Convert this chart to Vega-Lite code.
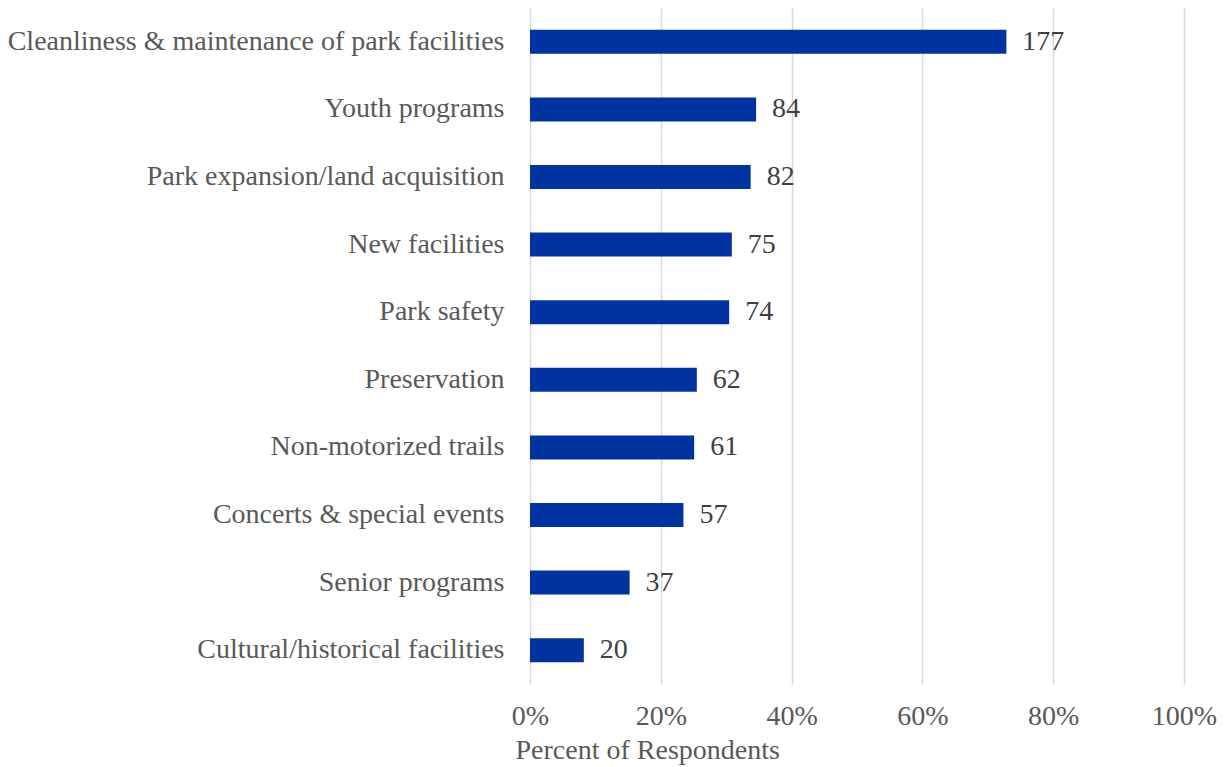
{
  "$schema": "https://vega.github.io/schema/vega-lite/v6.json",
  "autosize": {"type": "none"},
  "padding": {"left": 530, "top": 8, "right": 41, "bottom": 83},
  "width": 654,
  "height": 676,
  "background": "white",
  "config": {
    "view": {"stroke": null},
    "font": "Liberation Serif"
  },
  "data": {
    "values": [
      {"category": "Cleanliness & maintenance of park facilities", "count": 177, "percent": 0.7284},
      {"category": "Youth programs", "count": 84, "percent": 0.3457},
      {"category": "Park expansion/land acquisition", "count": 82, "percent": 0.3374},
      {"category": "New facilities", "count": 75, "percent": 0.3086},
      {"category": "Park safety", "count": 74, "percent": 0.3045},
      {"category": "Preservation", "count": 62, "percent": 0.2551},
      {"category": "Non-motorized trails", "count": 61, "percent": 0.2510},
      {"category": "Concerts & special events", "count": 57, "percent": 0.2346},
      {"category": "Senior programs", "count": 37, "percent": 0.1523},
      {"category": "Cultural/historical facilities", "count": 20, "percent": 0.0823}
    ]
  },
  "encoding": {
    "y": {
      "field": "category",
      "type": "nominal",
      "sort": null,
      "scale": {"paddingInner": 0.645, "paddingOuter": 0.3225},
      "axis": {
        "title": null,
        "ticks": false,
        "domain": false,
        "labelPadding": 26,
        "labelFont": "Liberation Serif",
        "labelFontSize": 28,
        "labelColor": "#595959",
        "labelLimit": 600
      }
    },
    "x": {
      "field": "percent",
      "type": "quantitative",
      "scale": {"domain": [0, 1], "nice": false},
      "axis": {
        "format": ".0%",
        "values": [0, 0.2, 0.4, 0.6, 0.8, 1],
        "grid": true,
        "gridColor": "#d9d9d9",
        "gridWidth": 1.5,
        "domain": false,
        "ticks": false,
        "labelFlush": false,
        "labelOverlap": false,
        "labelPadding": 18,
        "labelFont": "Liberation Serif",
        "labelFontSize": 28,
        "labelColor": "#595959",
        "title": "Percent of Respondents",
        "titleFont": "Liberation Serif",
        "titleFontSize": 28,
        "titleFontWeight": "normal",
        "titleColor": "#595959",
        "titleAnchor": "start",
        "titleAlign": "left",
        "titleX": -15,
        "titleY": 74,
        "titleBaseline": "alphabetic"
      }
    }
  },
  "layer": [
    {"mark": {"type": "bar", "color": "#0033A0"}},
    {
      "mark": {"type": "text", "align": "left", "baseline": "middle", "dx": 16, "fontSize": 28, "font": "Liberation Serif", "color": "#404040"},
      "encoding": {"text": {"field": "count", "type": "quantitative"}}
    }
  ]
}
